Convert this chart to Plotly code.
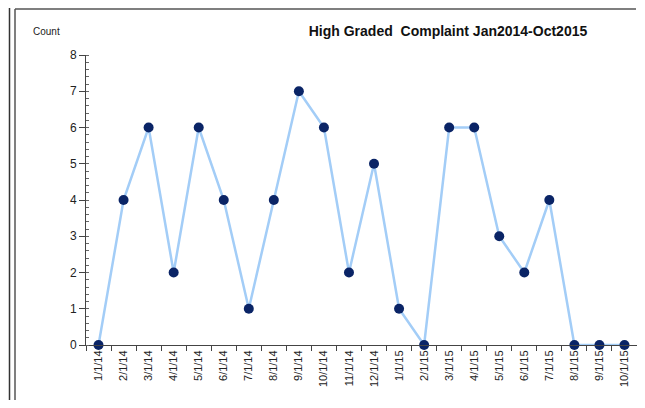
import plotly.graph_objects as go

months = ["1/1/14", "2/1/14", "3/1/14", "4/1/14", "5/1/14", "6/1/14", "7/1/14", "8/1/14",
          "9/1/14", "10/1/14", "11/1/14", "12/1/14", "1/1/15", "2/1/15", "3/1/15", "4/1/15",
          "5/1/15", "6/1/15", "7/1/15", "8/1/15", "9/1/15", "10/1/15"]
counts = [0, 4, 6, 2, 6, 4, 1, 4, 7, 6, 2, 5, 1, 0, 6, 6, 3, 2, 4, 0, 0, 0]

OFF = 8  # page body margin
W, H = 645 - 2 * OFF, 408 - 2 * OFF
L, T = 86 - OFF, 55 - OFF
R = W + OFF - 637
B = H - (345 - OFF)
pw, ph = W - L - R, H - T - B

def px(x):
    return (x - OFF - L) / pw

def py(y):
    return (H - B - (y - OFF)) / ph

fig = go.Figure()
fig.add_trace(go.Scatter(
    x=months, y=counts, mode="lines+markers",
    line=dict(color="#a3cdf7", width=2.5),
    marker=dict(color="#0a2466", size=10, line=dict(color="#0a2466", width=0)),
    cliponaxis=False, showlegend=False,
))

fig.update_layout(
    width=W, height=H,
    margin=dict(l=L, r=R, t=T, b=B, pad=0),
    paper_bgcolor="white", plot_bgcolor="white",
    font=dict(family="Liberation Sans, Arial, sans-serif", color="#222"),
    title=dict(text="<b>High Graded  Complaint Jan2014-Oct2015</b>",
               font=dict(size=14, color="#111"),
               xref="paper", x=px(448), xanchor="center",
               yref="container", y=1 - (31 - OFF) / H, yanchor="middle"),
    xaxis=dict(type="category", tickson="boundaries", ticks="outside", ticklen=5,
               tickcolor="#444", showline=True, linecolor="#444", linewidth=1,
               showgrid=False, tickangle=-90, tickfont=dict(size=11, color="#222"),
               range=[-0.5, len(months) - 0.5], zeroline=False),
    yaxis=dict(range=[0, 8], dtick=1, ticks="outside", ticklen=6, tickcolor="#444",
               showline=True, linecolor="#444", linewidth=1, showgrid=False,
               zeroline=False, tickfont=dict(size=12, color="#222"),
               minor=dict(dtick=0.2, ticks="inside", ticklen=3, tickcolor="#666")),
    annotations=[dict(text="Count", xref="paper", yref="paper", x=px(46), y=py(32),
                      xanchor="center", yanchor="middle", showarrow=False,
                      font=dict(size=10, color="#222"))],
    shapes=[
        dict(type="line", xref="paper", yref="paper", x0=px(9.5), x1=px(9.5), y0=py(8), y1=py(400),
             line=dict(color="#333", width=1.5)),
        dict(type="line", xref="paper", yref="paper", x0=px(15), x1=px(15), y0=py(9), y1=py(400),
             line=dict(color="#555", width=1.5)),
        dict(type="line", xref="paper", yref="paper", x0=px(15), x1=px(636), y0=py(9), y1=py(9),
             line=dict(color="#555", width=1.5)),
    ],
)

fig.write_html("out.html")
